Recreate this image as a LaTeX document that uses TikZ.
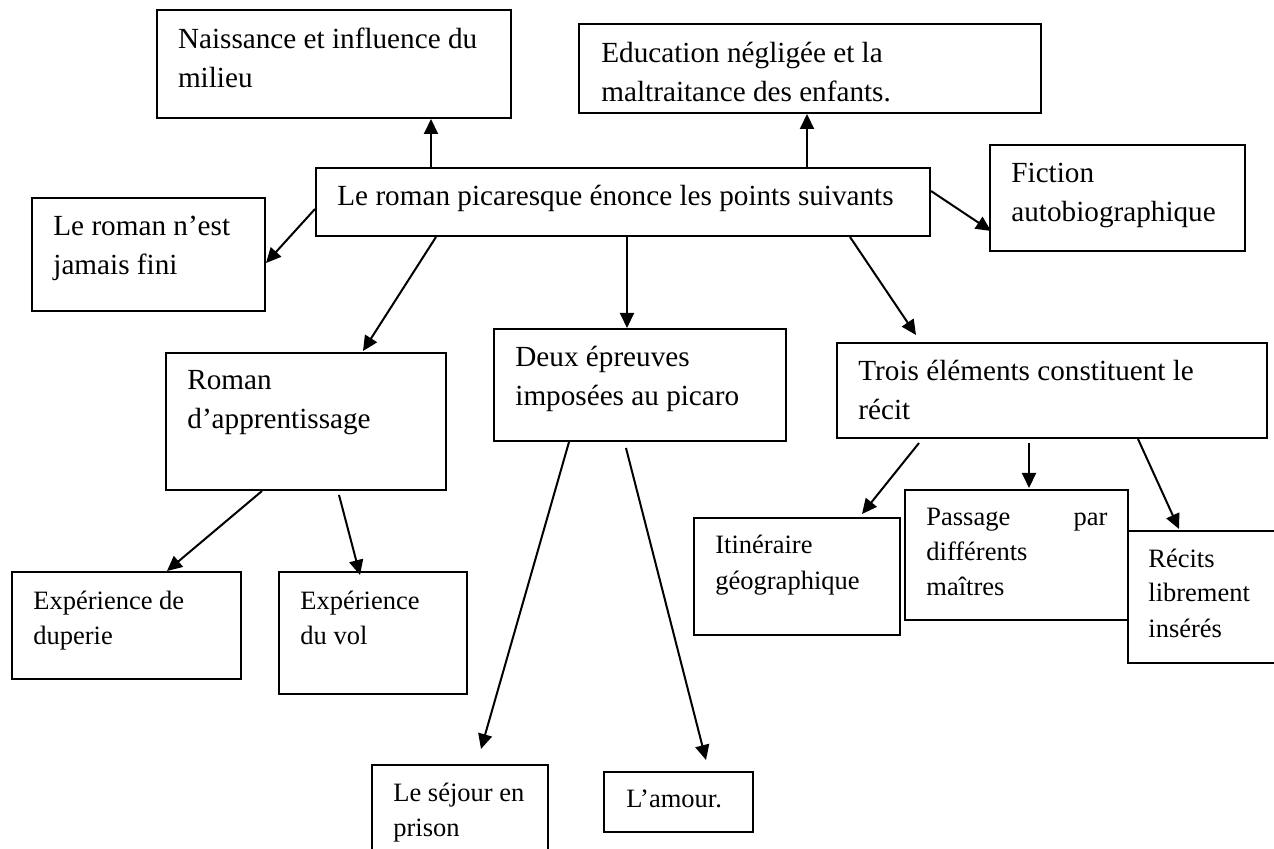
\documentclass[tikz,border=0pt]{standalone}
\usepackage{fontspec}
\setmainfont{Liberation Serif}
\usetikzlibrary{arrows.meta,fit,calc}
\begin{document}
\begin{tikzpicture}[x=0.5pt,y=-0.5pt,
  box/.style={draw, line width=1pt, inner sep=0pt},
  arr/.style={-{Triangle[length=7.5pt,width=7pt]}, line width=1pt},
  big/.style={anchor=base west, inner sep=0pt, align=left, font=\fontsize{14.6pt}{19.4pt}\selectfont},
  sml/.style={anchor=base west, inner sep=0pt, align=left, font=\fontsize{13.25pt}{17.5pt}\selectfont}]
\useasboundingbox (0,0) rectangle (1274,849);
\clip (0,0) rectangle (1274,849);

% boxes
\node[box, fit={(157,10)(511,118)}] (nai) {};
\node[box, fit={(579,24)(1041,113)}] (edu) {};
\node[box, fit={(316,168)(930,236)}] (cen) {};
\node[box, fit={(32,198)(265,311)}] (fin) {};
\node[box, fit={(990,145)(1245,251)}] (fic) {};
\node[box, fit={(166,353)(446,490)}] (rom) {};
\node[box, fit={(494,329)(786,441)}] (deu) {};
\node[box, fit={(837,343)(1267,438)}] (tro) {};
\node[box, fit={(12,572)(241,679)}] (dup) {};
\node[box, fit={(279,572)(467,694)}] (vol) {};
\node[box, fit={(372,765)(548,880)}] (sej) {};
\node[box, fit={(604,772)(753,832)}] (amo) {};
\node[box, fit={(694,518)(900,635)}] (iti) {};
\node[box, fit={(905,490)(1128,620)}] (pas) {};
\node[box, fit={(1128,531)(1300,663)}] (rec) {};

% texts (anchor = baseline of the last line)
\node[big] (naiT) at (177.6,87.8) {Naissance et influence du\\milieu};
\node[big] (eduT) at (601,101.3) {Education négligée et la\\maltraitance des enfants.};
\node[big] (cenT) at (337,206) {Le roman picaresque énonce les points suivants};
\node[big] (finT) at (53,274.8) {Le roman n’est\\jamais fini};
\node[big] (ficT) at (1011,221.8) {Fiction\\autobiographique};
\node[big] (romT) at (187,428.8) {Roman\\d’apprentissage};
\node[big] (deuT) at (515,405.8) {Deux épreuves\\imposées au picaro};
\node[big] (troT) at (858,419.8) {Trois éléments constituent le\\récit};
\node[sml] (dupT) at (33,644.5) {Expérience de\\duperie};
\node[sml] (volT) at (300,644.5) {Expérience\\du vol};
\node[sml] (sejT) at (393,836) {Le séjour en\\prison};
\node[sml] (amoT) at (626,807.5) {L’amour.};
\node[sml] (itiT) at (715,589) {Itinéraire\\géographique};
\node[sml] (pasT) at (926,596) {\hbox to 90.5pt{Passage\hfill par}\\différents\\maîtres};
\node[sml] (recT) at (1148,637) {Récits\\librement\\insérés};

% connectors
\draw[arr] ($(cen.north west)+(116,0)$) -- ($(nai.south west)+(275,0)$);
\draw[arr] ($(cen.north west)+(492,0)$) -- ($(edu.south west)+(229,0)$);
\draw[arr] ($(cen.north west)+(0,42)$) -- ($(fin.north east)+(0,66)$);
\draw[arr] ($(cen.north east)+(0,24)$) -- ($(fic.north west)+(2,87)$);
\draw[arr] ($(cen.south west)+(121,0)$) -- ($(rom.north west)+(198,-1)$);
\draw[arr] ($(cen.south west)+(312,0)$) -- ($(deu.north west)+(134,0)$);
\draw[arr] ($(cen.south west)+(535,0)$) -- ($(tro.north west)+(80,-7)$);
\draw[arr] ($(rom.south west)+(97,0)$) -- ($(dup.north west)+(156,0)$);
\draw[arr] ($(rom.south west)+(174,4)$) -- ($(vol.north west)+(82,4)$);
\draw[arr] ($(deu.south west)+(76,0)$) -- ($(sej.north west)+(110,-15)$);
\draw[arr] ($(deu.south west)+(133,6)$) -- ($(amo.north west)+(103,-11)$);
\draw[arr] ($(tro.south west)+(83,4)$) -- ($(iti.north west)+(169,-3)$);
\draw[arr] ($(tro.south west)+(193,4)$) -- ($(pas.north west)+(125,-1)$);
\draw[arr] ($(tro.south west)+(302,0)$) -- ($(rec.north west)+(52,-1)$);
\end{tikzpicture}
\end{document}
